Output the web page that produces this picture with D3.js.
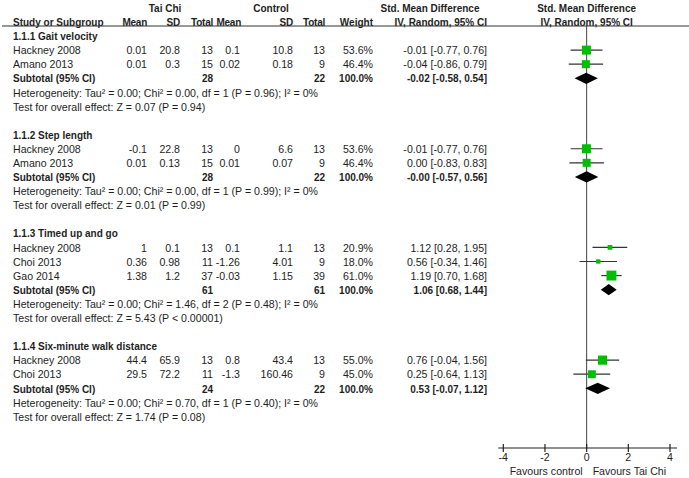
<!DOCTYPE html>
<html><head><meta charset="utf-8">
<script src="https://cdn.jsdelivr.net/npm/d3@7"></script>
<style>
body{margin:0;background:#fff}
text{font-family:"Liberation Sans",Arial,sans-serif;fill:#1e1e1e;font-size:10.6px}
text.b{font-weight:bold;font-size:10px}
text.h{letter-spacing:-0.25px}
</style>
</head><body><svg id="c" width="689" height="478"></svg>
<script>
// ---- data ----
const subgroups = ["1.1.1 Gait velocity", "1.1.2 Step length", "1.1.3 Timed up and go", "1.1.4 Six-minute walk distance"];
const studies    = ["Hackney 2008", "Amano 2013", "Hackney 2008", "Amano 2013", "Hackney 2008", "Choi 2013", "Gao 2014", "Hackney 2008", "Choi 2013"];
const studyGroup = [0, 0, 1, 1, 2, 2, 2, 3, 3];
const tcMean = [0.01, 0.01, -0.1, 0.01, 1, 0.36, 1.38, 44.4, 29.5];
const tcSD   = [20.8, 0.3, 22.8, 0.13, 0.1, 0.98, 1.2, 65.9, 72.2];
const tcN    = [13, 15, 13, 15, 13, 11, 37, 13, 11];
const ctMean = [0.1, 0.02, 0, 0.01, 0.1, -1.26, -0.03, 0.8, -1.3];
const ctSD   = [10.8, 0.18, 6.6, 0.07, 1.1, 4.01, 1.15, 43.4, 160.46];
const ctN    = [13, 9, 13, 9, 13, 9, 39, 13, 9];
const weight = [53.6, 46.4, 53.6, 46.4, 20.9, 18.0, 61.0, 55.0, 45.0];
const smd    = [-0.01, -0.04, -0.01, 0.00, 1.12, 0.56, 1.19, 0.76, 0.25];
const ciLo   = [-0.77, -0.86, -0.77, -0.83, 0.28, -0.34, 0.70, -0.04, -0.64];
const ciHi   = [0.76, 0.79, 0.76, 0.83, 1.95, 1.46, 1.68, 1.56, 1.13];
const subTcN = [28, 28, 61, 24];
const subCtN = [22, 22, 61, 22];
const subSmd = [-0.02, -0.004, 1.06, 0.53];
const subLo  = [-0.58, -0.57, 0.68, -0.07];
const subHi  = [0.54, 0.56, 1.44, 1.12];
const tau2   = [0.00, 0.00, 0.00, 0.00];
const chi2   = [0.00, 0.00, 1.46, 0.70];
const hetDf  = [1, 1, 2, 1];
const hetP   = [0.96, 0.99, 0.48, 0.40];
const i2     = [0, 0, 0, 0];
const zVal   = [0.07, 0.01, 5.43, 1.74];
const zP     = ["= 0.94", "= 0.99", "< 0.00001", "= 0.08"];
const ticks  = [-4, -2, 0, 2, 4];
const favLeft = "Favours control", favRight = "Favours Tai Chi";

// ---- layout ----
const svg = d3.select("#c");
const f2 = v => v.toFixed(2);
const rows = [];
let idx = 0;
subgroups.forEach((g, gi) => {
  rows.push({type: "head", gi, i: idx++});
  studies.forEach((s, si) => { if (studyGroup[si] === gi) rows.push({type: "study", si, i: idx++}); });
  rows.push({type: "sub", gi, i: idx++});
  rows.push({type: "het", gi, i: idx++});
  rows.push({type: "test", gi, i: idx++});
  idx++;
});
const y = d3.scaleLinear().domain([0, 27]).range([36, 416.5]);
const x = d3.scaleLinear().domain([-4, 4]).range([503.3, 670]);
const box = d3.scaleLinear().domain([0, 100]).range([2, 15]);
const base = 4.2;
const col = {name: 13, m1: 147, s1: 180, n1: 213, m2: 240, s2: 293, n2: 325, w: 373, ci: 487};

function txt(xp, yp, s, anchor, bold, extra) {
  svg.append("text").attr("x", xp).attr("y", yp).attr("text-anchor", anchor || "start")
    .attr("class", (bold ? "b" : "") + (extra ? " " + extra : "")).text(s);
}

// header
const h1 = y(-2) + base, h2 = y(-1) + base;
txt(165, h1, "Tai Chi", "middle", true);
txt(271, h1, "Control", "middle", true);
txt(430, h1, "Std. Mean Difference", "middle", true);
txt(x(0), h1, "Std. Mean Difference", "middle", true);
txt(col.name, h2, "Study or Subgroup", "start", true);
txt(col.m1, h2, "Mean", "end", true, "h");
txt(col.s1, h2, "SD", "end", true, "h");
txt(col.n1, h2, "Total", "end", true, "h");
txt(col.m2 + 1, h2, "Mean", "end", true, "h");
txt(col.s2, h2, "SD", "end", true, "h");
txt(col.n2, h2, "Total", "end", true, "h");
txt(col.w, h2, "Weight", "end", true);
txt(col.ci, h2, "IV, Random, 95% CI", "end", true);
txt(x(0), h2, "IV, Random, 95% CI", "middle", true);
svg.append("line").attr("x1", 2).attr("x2", 689).attr("y1", 26).attr("y2", 26)
  .attr("stroke", "#333").attr("stroke-width", 1);

// vertical line of no effect
const axisY = 448;
svg.append("line").attr("x1", x(0)).attr("x2", x(0)).attr("y1", 26).attr("y2", axisY)
  .attr("stroke", "#444").attr("stroke-width", 1);

rows.forEach(r => {
  const yc = y(r.i), yb = yc + base;
  if (r.type === "head") {
    txt(col.name, yb, subgroups[r.gi], "start", true);
  } else if (r.type === "study") {
    const s = r.si;
    txt(col.name, yb, studies[s]);
    txt(col.m1, yb, String(tcMean[s]), "end");
    txt(col.s1, yb, String(tcSD[s]), "end");
    txt(col.n1, yb, String(tcN[s]), "end");
    txt(col.m2, yb, String(ctMean[s]), "end");
    txt(col.s2, yb, String(ctSD[s]), "end");
    txt(col.n2, yb, String(ctN[s]), "end");
    txt(col.w, yb, weight[s].toFixed(1) + "%", "end");
    txt(col.ci, yb, `${f2(smd[s])} [${f2(ciLo[s])}, ${f2(ciHi[s])}]`, "end");
    svg.append("line").attr("x1", x(ciLo[s])).attr("x2", x(ciHi[s])).attr("y1", yc).attr("y2", yc)
      .attr("stroke", "#333").attr("stroke-width", 1.2);
    const b = box(weight[s]);
    svg.append("rect").attr("x", x(smd[s]) - b / 2).attr("y", yc - b / 2).attr("width", b).attr("height", b)
      .attr("fill", "#00bf00");
  } else if (r.type === "sub") {
    const g = r.gi;
    txt(col.name, yb, "Subtotal (95% CI)", "start", true);
    txt(col.n1, yb, String(subTcN[g]), "end", true);
    txt(col.n2, yb, String(subCtN[g]), "end", true);
    txt(col.w, yb, "100.0%", "end", true);
    txt(col.ci, yb, `${f2(subSmd[g])} [${f2(subLo[g])}, ${f2(subHi[g])}]`, "end", true);
    const hh = 5.6;
    svg.append("path")
      .attr("d", `M${x(subLo[g])},${yc}L${x(subSmd[g])},${yc - hh}L${x(subHi[g])},${yc}L${x(subSmd[g])},${yc + hh}Z`)
      .attr("fill", "#000");
  } else if (r.type === "het") {
    const g = r.gi;
    txt(col.name, yb, `Heterogeneity: Tau\u00B2 = ${f2(tau2[g])}; Chi\u00B2 = ${f2(chi2[g])}, df = ${hetDf[g]} (P = ${f2(hetP[g])}); I\u00B2 = ${i2[g]}%`);
  } else if (r.type === "test") {
    const g = r.gi;
    txt(col.name, yb, `Test for overall effect: Z = ${f2(zVal[g])} (P ${zP[g]})`);
  }
});

// axis
const ax = svg.append("g");
ax.append("line").attr("x1", x(-4) - 5).attr("x2", x(4) + 7).attr("y1", axisY).attr("y2", axisY)
  .attr("stroke", "#222").attr("stroke-width", 1.2);
ax.selectAll("line.t").data(ticks).enter().append("line").attr("class", "t")
  .attr("x1", d => x(d)).attr("x2", d => x(d)).attr("y1", axisY - 4).attr("y2", axisY + 4)
  .attr("stroke", "#222").attr("stroke-width", 1.2);
ax.selectAll("text.t").data(ticks).enter().append("text").attr("class", "t")
  .attr("x", d => x(d)).attr("y", 460.5).attr("text-anchor", "middle").text(d => String(d));
txt(x(0) - 4, 475, favLeft, "end");
txt(x(0) + 6, 475, favRight, "start");
</script>
</body></html>
